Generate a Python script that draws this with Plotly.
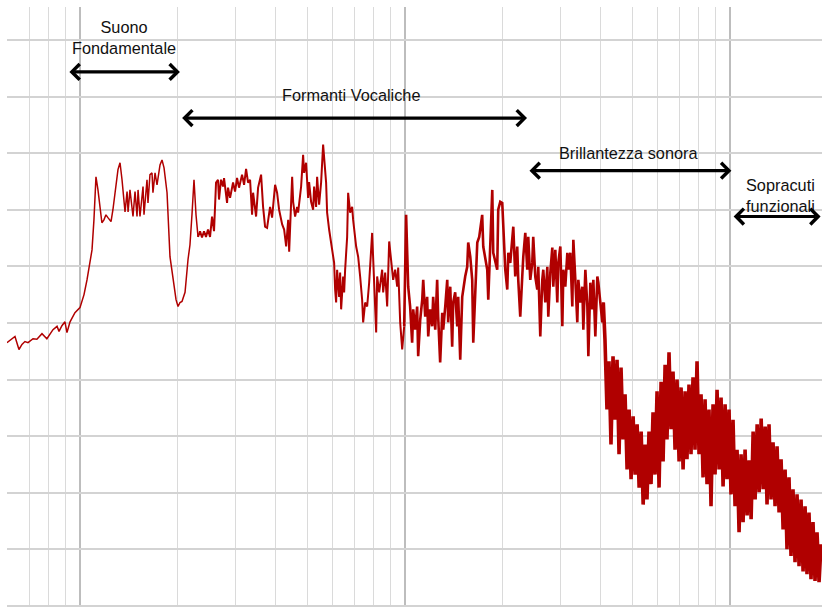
import numpy as np
import plotly.graph_objects as go

# ---- Spectrum: frequency (Hz) and level (dB) ----
freq_low = [59.6, 61.3, 63.1, 64.9, 66.3, 67.7, 69.2, 71.7, 73.7, 76.4, 79.1, 82.6, 85.0, 86.2, 88.0,
            89.9, 91.2, 93.2, 96.5, 100, 102.9, 105.1, 107.3, 108.9, 110.4, 112.0, 113.6, 115.2, 116.8,
            118.5, 120.2, 121.9, 124.6, 126.3, 129.0, 130.9, 132.8, 134.7, 137.6, 139.6, 140.6, 142.5,
            145.6, 147.7, 149.8, 150.9, 153.0, 156.3, 157.4, 160.8, 161.9, 164.2, 166.6, 167.7, 170.2,
            172.6, 176.3, 178.8, 181.4, 185.3, 189.2, 193.2, 197.5, 200.3, 203.1, 206.0, 210.5, 215.0,
            218.0, 221.1, 224.3, 227.5, 230.8]
db_low = [-53.5, -52.9, -52.4, -54.7, -53.8, -53.3, -53.5, -52.8, -52.9, -51.9, -52.8, -51.2, -50.6, -51.5, -50.5,
          -49.8, -51.7, -49.8, -48.2, -47.3, -45.0, -42.4, -39.2, -37.1, -31.8, -24.2, -26.5, -30.0, -32.3,
          -31.8, -30.9, -31.4, -32.1, -30.0, -25.2, -22.9, -21.7, -24.7, -30.4, -26.8, -30.4, -26.5,
          -31.2, -26.8, -31.2, -26.5, -31.2, -25.9, -30.9, -24.7, -28.8, -23.8, -23.5, -27.0, -23.5,
          -25.6, -22.1, -21.2, -22.6, -27.0, -38.3, -42.4, -45.9, -47.1, -46.4, -46.2, -44.6, -38.8,
          -36.2, -30.9, -24.7, -30.9, -34.8]

freq_mid = [234.1, 237.4, 240.8, 244.2, 247.7, 251.3, 254.9, 258.5, 262.2, 265.9, 267.8, 271.6, 275.5, 277.5,
            283.5, 285.5, 289.6, 295.8, 300.0, 304.3, 308.6, 315.3, 319.8, 324.4, 329.0, 333.7, 338.5, 340.9,
            348.2, 353.2, 360.8, 365.9, 371.1, 376.4, 384.5, 390.0, 398.4, 404.1, 409.9, 418.9, 424.8, 430.9,
            437.1, 440.2, 449.6, 452.8, 459.1, 465.7, 469.0, 479.1, 485.9, 489.4, 496.3, 503.4, 507.0, 514.2,
            521.6, 525.3, 532.8, 536.6, 544.2, 552.0, 559.9, 571.9, 576.0, 584.2, 596.8, 605.3,
            609.6, 614.0, 618.3, 627.1, 631.6, 636.1, 645.2, 649.8, 654.4, 663.8, 668.5, 678.0, 687.7, 692.6,
            707.5, 717.6, 727.8, 738.2, 743.5, 754.1, 764.9, 775.8, 792.4, 798.0, 815.3, 821.1, 832.8, 850.7,
            856.7, 869.0, 881.4, 894.0, 906.7, 919.7, 932.8, 946.1, 952.9, 966.5, 980.3, 994.3]
db_mid = [-33.8, -34.9, -33.8, -34.8, -33.5, -34.8, -31.2, -33.8, -25.2, -24.7, -28.2, -24.7, -25.9, -24.4,
          -28.8, -26.1, -27.9, -25.2, -26.8, -24.4, -26.1, -23.8, -25.6, -22.8, -25.2, -24.7, -30.9, -27.0,
          -31.2, -26.1, -23.8, -29.5, -33.0, -33.2, -29.5, -31.4, -25.6, -27.0, -30.0, -32.6, -33.5, -36.5,
          -31.8, -37.4, -24.2, -28.6, -31.2, -29.5, -30.5, -25.9, -20.3, -23.5, -21.7, -27.9, -25.1, -28.6,
          -30.0, -25.9, -29.5, -24.2, -29.1, -25.2, -18.5, -25.2, -30.5, -33.5, -37.1, -39.4,
          -44.1, -46.4, -40.6, -45.4, -41.1, -47.6, -41.8, -44.6, -40.6, -34.8, -27.0, -30.5, -29.5, -31.8,
          -36.5, -38.3, -41.8, -45.9, -49.9, -46.4, -47.1, -42.9, -34.1, -38.3, -51.7, -41.8, -44.6, -40.6,
          -44.6, -41.1, -47.1, -35.6, -39.4, -42.4, -40.6, -43.6, -40.2, -49.9, -54.7, -50.6]

freq_high = [1008, 1023, 1037, 1052, 1060, 1075, 1090, 1098, 1114, 1130, 1138, 1154, 1170, 1179, 1195, 1212,
             1221, 1239, 1256, 1265, 1283, 1302, 1311, 1330, 1349, 1358, 1378, 1397, 1407, 1427, 1448, 1458,
             1479, 1500, 1511, 1532, 1554, 1565, 1588, 1610, 1622, 1645, 1669, 1692,
             1728, 1741, 1766, 1791, 1804, 1829, 1856, 1869, 1895, 1922, 1936, 1964, 1992, 2006, 2035, 2064,
             2079, 2108, 2138, 2154, 2184, 2215, 2231, 2263, 2295, 2312, 2345, 2378, 2395, 2429, 2464, 2481,
             2517, 2553, 2571, 2608, 2645, 2664, 2702, 2741, 2760, 2800, 2840, 2860, 2901, 2942, 2963, 3006,
             3049, 3071, 3114, 3159, 3181, 3226, 3272, 3296, 3343, 3390, 3415, 3464, 3513, 3538, 3589, 3640,
             3666, 3718, 3771, 3798, 3852, 3907, 3935, 3991, 4047, 4076]
db_high = [-30.9, -43.6, -47.1, -53.5, -47.6, -51.2, -47.1, -55.9, -49.4, -45.9, -42.4, -48.9, -45.4, -52.4, -47.6, -50.6,
           -45.4, -51.2, -42.4, -48.9, -57.0, -48.2, -51.2, -47.1, -42.4, -49.9, -43.6, -54.2, -46.4, -44.6, -50.6, -45.4,
           -56.5, -45.4, -44.1, -41.8, -40.1, -35.8, -38.3, -42.4, -53.5, -44.1, -35.8, -34.8,
           -30.9, -36.5, -38.8, -40.6, -45.9, -37.6, -26.5, -37.6, -39.4, -40.6, -30.0, -28.6, -28.8, -32.3, -40.6, -44.1,
           -37.6, -39.4, -35.3, -33.0, -41.8, -36.5, -42.4, -48.9, -41.8, -38.3, -34.1, -40.6, -34.8, -42.4, -39.4, -34.8,
           -41.8, -44.1, -40.1, -52.4, -42.4, -40.6, -46.4, -40.1, -48.9, -41.1, -36.7, -43.6, -37.1, -46.4, -39.4, -36.5,
           -50.6, -40.6, -43.6, -37.6, -40.6, -37.6, -47.1, -35.3, -42.4, -49.9, -42.4, -46.4, -43.6, -51.2, -40.6, -47.1,
           -55.9, -42.9, -47.6, -42.4, -52.4, -41.8, -42.9, -46.4, -49.9, -46.4]

freq_top = [4124, 4183, 4243, 4304, 4366, 4428, 4492, 4556, 4621, 4688, 4755, 4823, 4892, 4962, 5034, 5106,
            5179, 5253, 5329, 5405, 5483, 5554, 5634, 5715, 5797, 5880, 5964, 6050, 6137, 6225, 6314, 6400,
            6492, 6585, 6679, 6775, 6872, 6971, 7071, 7172, 7275, 7373, 7479, 7586, 7695, 7805, 7917, 8030,
            8146, 8262, 8381, 8497, 8619, 8742, 8868, 8995, 9124, 9255, 9387, 9522, 9659, 9790, 9931, 10073,
            10218, 10364, 10513, 10663, 10816, 10971, 11128, 11288, 11449, 11613, 11780, 11949, 12120, 12294,
            12470, 12649, 12830, 13000, 13185, 13375, 13567, 13761, 13958, 14158, 14361, 14567, 14775, 14975,
            15190, 15408, 15629, 15853, 16080, 16310, 16544, 16781, 17021, 17255, 17502, 17753, 18007, 18265,
            18527, 18793, 19062]
db_top = [-52.9, -65.3, -56.8, -71.5, -55.9, -67.1, -56.5, -73.2, -57.9, -70.6, -62.6, -75.9, -65.3, -77.6, -66.5, -76.8,
          -67.9, -79.1, -69.2, -82.1, -71.5, -81.2, -69.2, -78.5, -65.8, -76.8, -62.1, -79.1, -60.4, -74.5, -57.4, -70.6,
          -55.2, -68.8, -58.6, -72.4, -60.0, -74.5, -61.4, -75.9, -62.1, -74.1, -60.9, -73.2, -59.6, -72.4, -56.8, -73.2,
          -62.6, -77.3, -63.5, -78.5, -65.3, -82.4, -64.4, -76.8, -61.8, -75.9, -63.2, -78.9, -64.4, -77.6, -65.3, -80.3,
          -67.1, -82.4, -72.4, -87.0, -73.2, -85.2, -72.4, -84.0, -74.3, -84.7, -69.2, -81.2, -67.9, -79.9,
          -66.9, -79.4, -68.3, -82.1, -67.9, -81.2, -71.1, -82.4, -71.8, -83.5, -74.1, -86.5, -75.9, -90.0,
          -77.3, -91.2, -79.4, -92.3, -80.3, -93.0, -81.2, -93.9, -82.4, -94.4, -83.5, -95.3, -85.2, -95.6,
          -87.0, -95.8, -89.1]

# ---- Axis grid values ----
major_freqs = [100, 1000, 10000]
minor_freqs = [60, 70, 80, 90, 200, 300, 400, 500, 600, 700, 800, 900,
               2000, 3000, 4000, 5000, 6000, 7000, 8000, 9000]
db_grid = [-100, -90, -80, -70, -60, -50, -40, -30, -20, -10, 0]

# ---- Band labels: text, label freq, label dB, arrow from/to (Hz), arrow dB ----
band_text = ["Suono<br>Fondamentale", "Formanti Vocaliche", "Brillantezza sonora", "Sopracuti<br>funzionali"]
band_label_f = [136.6, 682, 4857, 14350]
band_label_db = [0.5, -9.7, -19.9, -27.4]
band_from = [91.8, 204, 2390, 10150]
band_to = [203, 2374, 10100, 19000]
band_db = [-5.65, -13.8, -23.1, -31.2]

LINE_COLOR = "#b00000"
fig = go.Figure()
# the spectrum gets visually denser with frequency: draw each section with its own stroke width,
# each section starting at the last point of the previous one so the line stays continuous
sections = [
    (freq_low, db_low, 1.5),
    ([freq_low[-1]] + freq_mid, [db_low[-1]] + db_mid, 2.0),
    ([freq_mid[-1]] + freq_high, [db_mid[-1]] + db_high, 2.6),
    ([freq_high[-1]] + freq_top, [db_high[-1]] + db_top, 3.6),
]
for fx, fy, w in sections:
    fig.add_trace(go.Scatter(x=fx, y=fy, mode="lines",
                             line=dict(color=LINE_COLOR, width=w),
                             hoverinfo="skip", showlegend=False))

annotations = []
for t, lf, ldb, f0, f1, adb in zip(band_text, band_label_f, band_label_db, band_from, band_to, band_db):
    annotations.append(dict(x=np.log10(lf), y=ldb, xref="x", yref="y", text=t, showarrow=False,
                            xanchor="center", yanchor="middle",
                            font=dict(family="Liberation Sans, Arial, sans-serif", size=16.3, color="#111111")))
    annotations.append(dict(x=np.log10(f1), y=adb, ax=np.log10(f0), ay=adb,
                            xref="x", yref="y", axref="x", ayref="y", text="",
                            showarrow=True, arrowside="end+start", arrowhead=4, startarrowhead=4,
                            arrowsize=0.95, startarrowsize=0.95, arrowwidth=3.2, arrowcolor="#000000",
                            standoff=0, startstandoff=0))

fig.update_layout(
    width=822, height=608, autosize=False,
    margin=dict(l=7, r=0, t=7, b=1, pad=0),
    paper_bgcolor="white", plot_bgcolor="white",
    showlegend=False,
    annotations=annotations,
    xaxis=dict(type="log", range=[np.log10(59.63), np.log10(19190)],
               tickmode="array", tickvals=major_freqs, showticklabels=False, ticks="",
               showgrid=True, gridcolor="#bdbdbd", gridwidth=1.5, zeroline=False, showline=False,
               minor=dict(tickmode="array", tickvals=minor_freqs, showgrid=True,
                          gridcolor="#dadada", gridwidth=1.3, ticks="")),
    yaxis=dict(range=[-100.2, 5.82], tickmode="array", tickvals=db_grid, showticklabels=False,
               ticks="", showgrid=True, gridcolor="#d3d3d3", gridwidth=1.5, zeroline=False, showline=False),
)

fig.write_html("out.html", config={"displayModeBar": False},
               post_script="document.body.style.margin='0px'; document.body.style.overflow='hidden';")
